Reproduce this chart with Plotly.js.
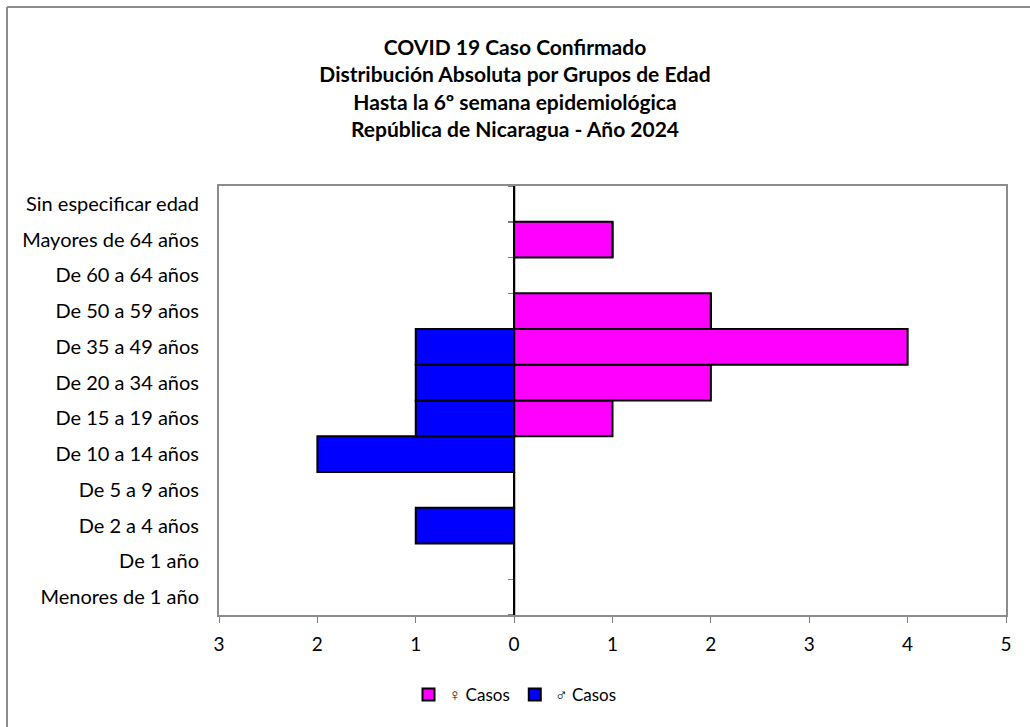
<!DOCTYPE html>
<html>
<head>
<meta charset="utf-8">
<script src="https://cdn.plot.ly/plotly-3.0.1.min.js"></script>
<style>body{margin:0;background:#fff}#chart{width:1030px;height:727px}</style>
</head>
<body>
<div id="chart"></div>
<script>
const categories = ["Menores de 1 año","De 1 año","De 2 a 4 años","De 5 a 9 años","De 10 a 14 años","De 15 a 19 años","De 20 a 34 años","De 35 a 49 años","De 50 a 59 años","De 60 a 64 años","Mayores de 64 años","Sin especificar edad"];
const femaleCases = [0,0,0,0,0,1,2,4,2,0,1,0];
const maleCases = [0,0,1,0,2,1,1,1,0,0,0,0];
const xTickVals = [-3,-2,-1,0,1,2,3,4,5];
const xTickText = ["3","2","1","0","1","2","3","4","5"];

const W = 1030, H = 727, L = 219, R = 24, T = 186, B = 112;
const pw = W - L - R, ph = H - T - B;

const font = "Lato, Carlito, 'Open Sans', sans-serif";

const traces = [
  {type:'bar', orientation:'h', name:'♀ Casos', y:categories, x:femaleCases,
   marker:{color:'#FF00FF', line:{color:'#000', width:2}}, hoverinfo:'x+y'},
  {type:'bar', orientation:'h', name:'♂ Casos', y:categories, x:maleCases.map(v=>-v),
   marker:{color:'#0000FF', line:{color:'#000', width:2}}, hoverinfo:'x+y'}
];

const boundaries = [];
for (let i = 0; i <= categories.length; i++) boundaries.push(i - 0.5);

const layout = {
  width: W, height: H,
  margin:{l:L, r:R, t:T, b:B, pad:0},
  paper_bgcolor:'#fff', plot_bgcolor:'#fff',
  font:{family:font, size:20, color:'#000'},
  title:{text:'<b>COVID 19 Caso Confirmado<br>Distribución Absoluta por Grupos de Edad<br>Hasta la 6º semana epidemiológica<br>República de Nicaragua - Año 2024</b>',
         x:0.5, xref:'container', xanchor:'center', y:1-55/H, yref:'container', yanchor:'top',
         font:{family:font, size:21, color:'#000'}},
  barmode:'relative', bargap:0,
  showlegend:true,
  legend:{orientation:'h', x:0.5, xref:'container', xanchor:'center', y:1-695/H, yref:'container', yanchor:'middle',
          font:{family:font, size:17}, itemwidth:30, traceorder:'normal'},
  xaxis:{range:[-3,5], tickvals:xTickVals, ticktext:xTickText, ticks:'outside', ticklen:6, tickcolor:'#808080', tickwidth:1,
         showline:true, linecolor:'#8c8c8c', linewidth:2, mirror:true, showgrid:false, ticklabelstandoff:5,
         zeroline:true, zerolinecolor:'#000', zerolinewidth:1.5, tickfont:{family:font, size:19}, fixedrange:true},
  yaxis:{type:'category', categoryorder:'array', categoryarray:categories, range:[-0.5, 11.5],
         showline:true, linecolor:'#8c8c8c', linewidth:2, mirror:true, showgrid:false, ticks:'',
         ticklabelstandoff:14, tickfont:{family:font, size:20}, fixedrange:true},
  yaxis2:{overlaying:'y', anchor:'free', position:0.375, side:'left', range:[-0.5,11.5],
          tickvals:boundaries, showticklabels:false, ticks:'outside', ticklen:6, tickcolor:'#808080', tickwidth:1.5,
          showline:false, showgrid:false, zeroline:false, layer:'below traces', fixedrange:true},
  shapes:[
    {type:'line', xref:'paper', yref:'paper', x0:(7-L)/pw, x1:(W-L)/pw+0.05, y0:1+(T-7)/ph, y1:1+(T-7)/ph, line:{color:'#8c8c8c', width:2}},
    {type:'line', xref:'paper', yref:'paper', x0:(7-L)/pw, x1:(7-L)/pw, y0:1+(T-7)/ph, y1:-(B+5)/ph, line:{color:'#8c8c8c', width:2}}
  ]
};

// invisible helper trace so the boundary tick axis is drawn
traces.push({type:'scatter', x:[0], y:[0], yaxis:'y2', mode:'markers', marker:{opacity:0}, showlegend:false, hoverinfo:'skip'});

Plotly.newPlot('chart', traces, layout, {displayModeBar:false, staticPlot:true});
</script>
</body>
</html>
